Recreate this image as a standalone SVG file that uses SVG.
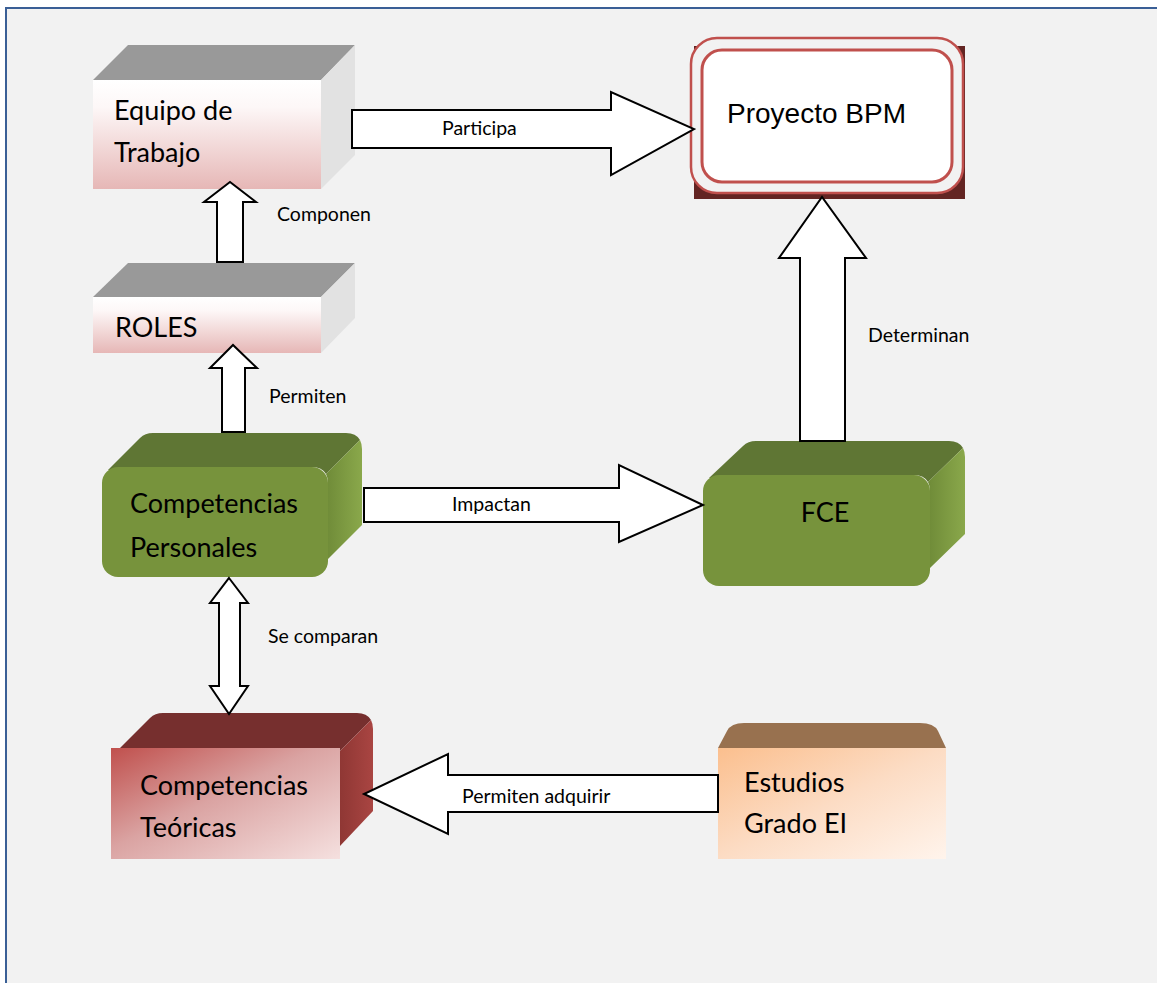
<svg xmlns="http://www.w3.org/2000/svg" width="1157" height="983" viewBox="0 0 1157 983">
  <defs>
    <linearGradient id="pinkFront" x1="0" y1="0" x2="0" y2="1">
      <stop offset="0" stop-color="#ffffff"/>
      <stop offset="0.25" stop-color="#fdf7f7"/>
      <stop offset="1" stop-color="#e6b7b6"/>
    </linearGradient>
    <linearGradient id="greenSide" x1="0" y1="0" x2="1" y2="0">
      <stop offset="0" stop-color="#6f8b38"/>
      <stop offset="1" stop-color="#8aa84b"/>
    </linearGradient>
    <linearGradient id="redSide" x1="0" y1="0" x2="1" y2="0">
      <stop offset="0" stop-color="#8f3734"/>
      <stop offset="1" stop-color="#a94542"/>
    </linearGradient>
    <linearGradient id="redFront" x1="0" y1="0" x2="1" y2="1">
      <stop offset="0" stop-color="#c0504d"/>
      <stop offset="0.45" stop-color="#daa3a2"/>
      <stop offset="1" stop-color="#f5e0df"/>
    </linearGradient>
    <linearGradient id="peachFront" x1="0" y1="0" x2="1" y2="1">
      <stop offset="0" stop-color="#fbbf8e"/>
      <stop offset="0.5" stop-color="#fcdcc4"/>
      <stop offset="1" stop-color="#fff4ec"/>
    </linearGradient>
    <style>
      .node { font-family: Lato, "Open Sans", "Liberation Sans", sans-serif; font-size: 27px; fill: #000; }
      .label { font-family: Lato, "Open Sans", "Liberation Sans", sans-serif; font-size: 19.5px; fill: #000; }
      .title { font-family: "Liberation Sans", Arial, sans-serif; font-size: 28px; fill: #000; }
      .arrow { fill: #ffffff; stroke: #000000; stroke-width: 2; stroke-linejoin: miter; }
      .green-top { fill: #5f7634; }
      .green-front { fill: #77933c; }
    </style>
  </defs>

  <!-- page frame -->
  <rect x="0" y="0" width="1157" height="983" fill="#ffffff"/>
  <rect x="6" y="8" width="1170" height="1000" fill="#f2f2f2" stroke="#3a5f96" stroke-width="2"/>

  <!-- Equipo de Trabajo -->
  <g id="equipo">
    <polygon points="93,80 128,45 355,45 321,80" fill="#999999"/>
    <polygon points="321,80 355,45 355,155 321,189" fill="#e2e2e2"/>
    <rect x="93" y="80" width="228" height="109" fill="url(#pinkFront)"/>
    <text class="node" x="114" y="120">Equipo de</text>
    <text class="node" x="114" y="162">Trabajo</text>
  </g>

  <!-- ROLES -->
  <g id="roles">
    <polygon points="93,297 128,263 355,263 321,297" fill="#999999"/>
    <polygon points="321,297 355,263 355,318 321,353" fill="#e2e2e2"/>
    <rect x="93" y="297" width="228" height="56" fill="url(#pinkFront)"/>
    <text class="node" x="115" y="337">ROLES</text>
  </g>

  <!-- Proyecto BPM -->
  <g id="proyecto">
    <rect x="694" y="46" width="271" height="153" fill="#632523"/>
    <rect x="691" y="38" width="272" height="155" rx="26" fill="#f2f2f2" stroke="#c0504d" stroke-width="2.5"/>
    <rect x="702" y="50" width="250" height="132" rx="20" fill="#ffffff" stroke="#c0504d" stroke-width="3"/>
    <text class="title" x="727" y="123">Proyecto BPM</text>
  </g>

  <!-- Competencias Personales -->
  <g id="comp-personales">
    <path class="green-top" d="M108,470 L140,438 Q145,433 153,433 L346,433 Q356,433 360,440 L326,474 Q322,467 312,467 Z"/>
    <path fill="url(#greenSide)" d="M326,474 L360,440 Q362,444 362,449 L362,525 L328,559 L328,483 Q328,478 326,474 Z"/>
    <rect class="green-front" x="102" y="467" width="226" height="110" rx="16"/>
    <text class="node" x="130" y="513">Competencias</text>
    <text class="node" x="130" y="557">Personales</text>
  </g>

  <!-- FCE -->
  <g id="fce">
    <path class="green-top" d="M709,478 L743,446 Q748,441 756,441 L949,441 Q959,441 963,448 L928,482 Q924,475 914,475 Z"/>
    <path fill="url(#greenSide)" d="M928,482 L963,448 Q965,452 965,457 L965,534 L930,568 L930,491 Q930,486 928,482 Z"/>
    <rect class="green-front" x="703" y="475" width="227" height="111" rx="16"/>
    <text class="node" x="825" y="522" text-anchor="middle">FCE</text>
  </g>

  <!-- Competencias Teóricas -->
  <g id="comp-teoricas">
    <path fill="#762f2e" d="M120,748 L150,718 Q155,713 163,713 L357,713 Q367,713 371,720 L340,751 L340,748 Z"/>
    <path fill="url(#redSide)" d="M340,751 L371,720 Q373,724 373,729 L373,811 L340,846 Z"/>
    <rect x="111" y="748" width="229" height="111" fill="url(#redFront)"/>
    <text class="node" x="140" y="795">Competencias</text>
    <text class="node" x="140" y="837">Teóricas</text>
  </g>

  <!-- Estudios Grado EI -->
  <g id="estudios">
    <path d="M718,748 L727,731 Q731,723 744,723 L920,723 Q934,723 938,731 L946,748 Z" fill="#98714f"/>
    <rect x="718" y="748" width="228" height="111" fill="url(#peachFront)"/>
    <text class="node" x="744" y="792">Estudios</text>
    <text class="node" x="744" y="833">Grado EI</text>
  </g>

  <!-- connectors -->
  <g id="connectors">
    <!-- Participa -->
    <polygon class="arrow" points="352,110 611,110 611,92 694,129 611,175 611,148 352,148"/>
    <!-- Componen -->
    <polygon class="arrow" points="217,262 217,202 204,202 230,182 256,202 243,202 243,262"/>
    <!-- Permiten -->
    <polygon class="arrow" points="222,432 222,368 210,368 233,345 257,368 245,368 245,432"/>
    <!-- Determinan -->
    <polygon class="arrow" points="800,441 800,258 779,258 822,197 866,258 845,258 845,441"/>
    <!-- Impactan -->
    <polygon class="arrow" points="364,488 619,488 619,465 703,505 619,542 619,522 364,522"/>
    <!-- Se comparan -->
    <polygon class="arrow" points="229,578 248,603 240,603 240,686 248,686 229,714 210,686 219,686 219,603 210,603"/>
    <!-- Permiten adquirir -->
    <polygon class="arrow" points="718,775 448,775 448,754 364,794 448,834 448,812 718,812"/>
    <text class="label" x="442" y="135">Participa</text>
    <text class="label" x="277" y="221">Componen</text>
    <text class="label" x="269" y="403">Permiten</text>
    <text class="label" x="868" y="342">Determinan</text>
    <text class="label" x="452" y="511">Impactan</text>
    <text class="label" x="268" y="643">Se comparan</text>
    <text class="label" x="462" y="803">Permiten adquirir</text>
  </g>
</svg>
